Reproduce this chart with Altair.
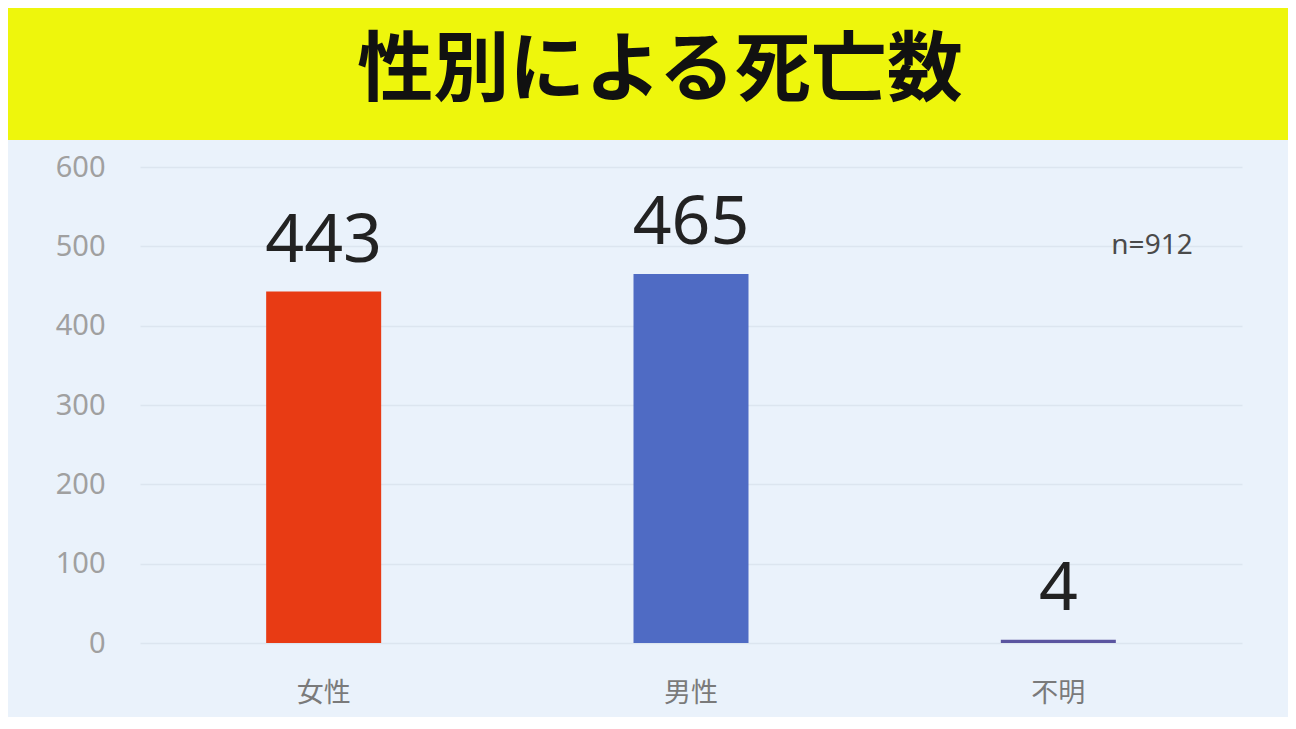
import altair as alt
import pandas as pd

title_text = "性別による死亡数"
categories = ["女性", "男性", "不明"]
deaths = [443, 465, 4]
bar_colors = ["#e83b14", "#4f6bc4", "#5b55a0"]
y_ticks = [0, 100, 200, 300, 400, 500, 600]
note_text = "n=912"

BG = "#eaf2fb"
YELLOW = "#eef60c"
JP = "Noto Sans CJK JP"

df = pd.DataFrame({"cat": categories, "n": deaths})

# decorative title band drawn above the plot area
band = alt.Chart(pd.DataFrame({"t": [title_text]})).mark_rect(color=YELLOW).encode(
    x=alt.value(-132), x2=alt.value(1148), y=alt.value(-159), y2=alt.value(-27)
)
title = alt.Chart(pd.DataFrame({"t": [title_text]})).mark_text(
    font=JP, fontSize=76, fontWeight="bold", color="#111111",
    align="center", baseline="middle"
).encode(x=alt.value(520), y=alt.value(-95), text="t:N")

xenc = alt.X("cat:N", sort=categories,
             scale=alt.Scale(paddingInner=0, paddingOuter=0),
             axis=alt.Axis(title=None, labelAngle=0, domain=False, ticks=False,
                           labelPadding=37, labelFontSize=27, labelFont=JP,
                           labelColor="#7a7a7a", minExtent=74, grid=False))
yenc = alt.Y("n:Q", scale=alt.Scale(domain=[0, 600], nice=False),
             axis=alt.Axis(title=None, values=y_ticks, domain=False, ticks=False,
                           labelPadding=35, labelFontSize=29, labelFont="Noto Sans",
                           labelColor="#a0a0a0", minExtent=132,
                           gridColor="#dce5ef", gridWidth=1.5))

bars = alt.Chart(df).mark_bar(size=115).encode(
    x=xenc, y=yenc,
    color=alt.Color("cat:N", scale=alt.Scale(domain=categories, range=bar_colors), legend=None),
)

labels = alt.Chart(df).mark_text(
    font="Noto Sans", fontSize=68, color="#222222", baseline="bottom", dy=-16
).encode(x=alt.X("cat:N", sort=categories), y="n:Q", text="n:Q")

note = alt.Chart(pd.DataFrame({"t": [note_text]})).mark_text(
    font="Noto Sans", fontSize=28, color="#4a4a4a", align="center", baseline="middle"
).encode(x=alt.value(1012), y=alt.datum(500), text="t:N")

chart = alt.layer(bars, labels, note, band, title).properties(
    width=1102, height=476, padding=0, background=BG
).configure_view(stroke=None)

chart.save("out.html", embed_options={"renderer": "svg", "actions": False})
